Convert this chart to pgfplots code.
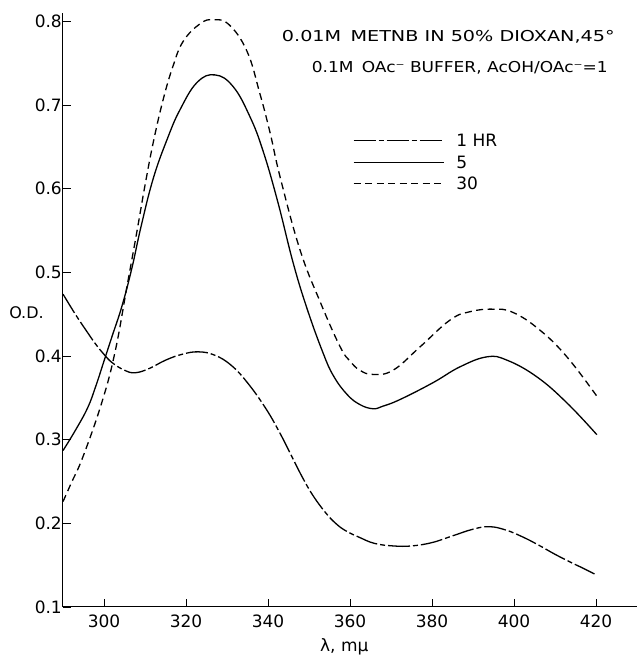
\documentclass[border=0pt]{standalone}
\usepackage{pgfplots}
\pgfplotsset{compat=1.18}
\usepackage{fontspec}
\usepackage{graphicx}
\setmainfont{DejaVu Sans}
\usetikzlibrary{calc}
\begin{document}
\begin{tikzpicture}
\begin{axis}[
  scale only axis,
  width=574pt, height=594pt,
  xmin=290, xmax=430, ymin=0.1, ymax=0.81,
  clip=false,
  axis lines*=left,
  axis line style={line width=1pt},
  tick align=inside,
  major tick length=8pt,
  tick style={line width=0.9pt, black},
  xtick={300,320,...,420},
  ytick={0.1,0.2,...,0.8},
  /pgf/number format/assume math mode=true,
  /pgf/number format/fixed,
  /pgf/number format/precision=1,
  ticklabel style={font=\fontsize{17}{20}\selectfont},
  xticklabel style={inner sep=0pt, anchor=north, yshift=-8pt},
  yticklabel style={inner sep=1pt, anchor=east},
  xlabel={λ, mμ},
  xlabel style={font=\fontsize{17}{20}\selectfont, at={(rel axis cs:0.49,0)}, anchor=center, yshift=-40pt},
  legend style={draw=none, fill=none, at={(axis cs:360.7,0.666)}, anchor=north west,
    font=\fontsize{17}{20}\selectfont, row sep=7.5pt, inner sep=0pt,
    nodes={inner sep=1pt, text height=12pt, text depth=0pt},
    /tikz/every odd column/.append style={column sep=11pt}},
  legend cell align=left,
  legend image code/.code={\draw[#1] (0pt,0pt) -- (90pt,0pt);},
  every axis plot/.append style={line width=1.3pt, black},
]
% 1 HR
\addplot[smooth, tension=0.7, dash pattern=on 22pt off 3pt on 5pt off 3pt] coordinates {
(290,0.474) (293,0.450) (296,0.428) (298,0.414) (300,0.402) (302,0.392)
(305,0.383) (307.6,0.380) (311,0.385) (315,0.395) (319,0.402) (323,0.405)
(327,0.401) (331,0.389) (335,0.368) (339.5,0.337) (343,0.307) (346,0.278)
(348.5,0.254) (351,0.233) (354,0.213) (356.5,0.200) (359,0.191) (362.4,0.183)
(366,0.176) (370.5,0.173) (375,0.173) (380,0.177) (385,0.185) (390,0.193)
(394,0.196) (398,0.192) (402,0.184) (406,0.174) (410,0.163) (414,0.153)
(417,0.146) (420.2,0.138)
};
\addlegendentry{1 HR}
% 5
\addplot[smooth, tension=0.7] coordinates {
(290,0.287) (293,0.311) (296,0.338) (298,0.364) (300,0.394) (302,0.424)
(304.4,0.460) (306.8,0.505) (309,0.554) (312,0.612) (315.4,0.659) (318.5,0.694)
(322.7,0.727) (327.1,0.736) (331.5,0.722) (335.6,0.686) (338.8,0.645)
(342.4,0.584) (346.1,0.512) (349.5,0.457) (353.4,0.404) (356,0.376)
(359.3,0.354) (362.4,0.342) (365.6,0.337) (368,0.340) (372.2,0.348)
(380.2,0.368) (386.8,0.387) (393.4,0.399) (398.3,0.395) (405.6,0.375)
(412.9,0.344) (420.2,0.306)
};
\addlegendentry{5}
% 30
\addplot[smooth, tension=0.7, dash pattern=on 7pt off 4.5pt] coordinates {
(290,0.226) (292,0.248) (294.9,0.280) (299.5,0.345) (302.7,0.405) (305.6,0.483)
(308,0.548) (310,0.604) (312,0.655) (314.4,0.706) (316.8,0.746) (319.3,0.776)
(323.4,0.797) (326.6,0.802) (330.5,0.796) (334.9,0.764) (338,0.714)
(340.5,0.667) (343,0.613) (347.8,0.527) (352.7,0.465) (357.6,0.411)
(360,0.394) (362.4,0.383) (365.6,0.378) (370.5,0.383) (377.1,0.411)
(384.4,0.443) (389.3,0.453) (394.9,0.456) (399.8,0.452) (406.3,0.431)
(412.9,0.399) (420.2,0.352)
};
\addlegendentry{30}
\node[anchor=east, inner sep=0pt, font=\fontsize{15}{18}\selectfont] at (axis cs:424.6,0.782) {\scalebox{1.28}[1]{0.01M\, METNB IN 50\% DIOXAN,45°}};
\node[anchor=east, inner sep=0pt, font=\fontsize{15}{18}\selectfont] at (axis cs:422.9,0.745) {\scalebox{1.135}[1]{0.1M\, OAc⁻ BUFFER, AcOH/OAc⁻=1}};
\node[font=\fontsize{16}{19}\selectfont, inner sep=0pt, xshift=-36.5pt] at (rel axis cs:0,0.495) {O.D.};
\coordinate (O) at (rel axis cs:0,0);
\coordinate (T) at (rel axis cs:1,1);
\end{axis}
\pgfresetboundingbox
\path[use as bounding box] ($(O)+(-63pt,-50pt)$) rectangle ($(T)+(0pt,13pt)$);
\end{tikzpicture}
\end{document}
